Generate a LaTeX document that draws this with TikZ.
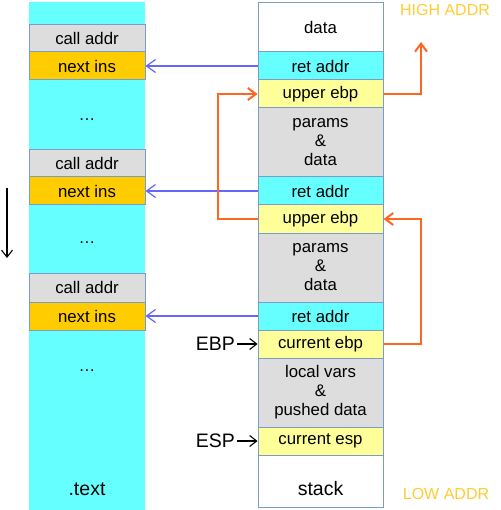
\documentclass[tikz,border=0pt]{standalone}
\usepackage{fontspec}
\setmainfont{Liberation Sans}
\usetikzlibrary{arrows.meta}
\definecolor{cyanfill}{HTML}{66FFFF}
\definecolor{grayfill}{HTML}{DDDDDD}
\definecolor{goldfill}{HTML}{FFCC00}
\definecolor{paleyellow}{HTML}{FFFF99}
\definecolor{bord}{HTML}{7B9CCB}
\definecolor{bluearrow}{HTML}{6666FF}
\definecolor{orangearrow}{HTML}{FF6622}
\definecolor{addrtext}{HTML}{FFCC33}
\begin{document}
\begin{tikzpicture}[x=1pt,y=-1pt,
  cell/.style={draw=bord, line width=1pt, inner sep=0pt, minimum width=125pt,
    align=center, font=\fontsize{16.8}{19}\selectfont},
  lcell/.style={cell, minimum width=116pt},
  barrow/.style={draw=bluearrow, line width=1.2pt, -{Straight Barb[length=9pt,width=13pt,line width=1.2pt]}},
  oarrow/.style={draw=orangearrow, line width=2pt, -{Straight Barb[length=8pt,width=12pt,line width=2pt]}},
  karrow/.style={draw=black, line width=1.1pt, -{Straight Barb[length=7pt,width=11pt,line width=1.1pt]}},
  bigtext/.style={font=\fontsize{19.5}{22}\selectfont},
  addr/.style={text=addrtext, font=\fontsize{16}{18}\selectfont}
]
\useasboundingbox (0,0) rectangle (500,510);
% text segment background
\fill[cyanfill] (29,2) rectangle (145,510);

% left column cells
\node[lcell, fill=grayfill, minimum height=27pt] (c1) at (87,38.5) {call addr};
\node[lcell, fill=goldfill, minimum height=28pt] (n1) at (87,66) {next ins};
\node[lcell, fill=grayfill, minimum height=27pt] (c2) at (87,163.5) {call addr};
\node[lcell, fill=goldfill, minimum height=28pt] (n2) at (87,191) {next ins};
\node[lcell, fill=grayfill, minimum height=29pt] (c3) at (87,287.5) {call addr};
\node[lcell, fill=goldfill, minimum height=28pt] (n3) at (87,316) {next ins};
\node[font=\fontsize{16.8}{19}\selectfont] (d1) at (87,120) {\ldots};
\node[font=\fontsize{16.8}{19}\selectfont] (d2) at (87,243) {\ldots};
\node[font=\fontsize{16.8}{19}\selectfont] (d3) at (87,371) {\ldots};
\node[bigtext] (txt) at (87,489) {.text};

% stack cells
\node[cell, fill=white, minimum height=49pt] (data) at (320.5,27.5) {data};
\node[cell, fill=cyanfill, minimum height=28pt] (r1) at (320.5,66) {ret addr};
\node[cell, fill=paleyellow, minimum height=28pt] (u1) at (320.5,94) {upper ebp};
\node[cell, fill=grayfill, minimum height=69pt] (p1) at (320.5,142.5) {params\\\&\\data};
\node[cell, fill=cyanfill, minimum height=28pt] (r2) at (320.5,191) {ret addr};
\node[cell, fill=paleyellow, minimum height=28pt] (u2) at (320.5,219) {upper ebp};
\node[cell, fill=grayfill, minimum height=69pt] (p2) at (320.5,267.5) {params\\\&\\data};
\node[cell, fill=cyanfill, minimum height=28pt] (r3) at (320.5,316) {ret addr};
\node[cell, fill=paleyellow, minimum height=28pt] (ce) at (320.5,344) {current ebp};
\node[cell, fill=grayfill, minimum height=69pt] (lv) at (320.5,392.5) {local vars\\\&\\pushed data};
\node[cell, fill=paleyellow, minimum height=28pt] (cs) at (320.5,441) {current esp};
\node[cell, fill=white, minimum height=52pt] (stk) at (320.5,481) {};
\node[bigtext] (stklabel) at (320.5,489) {stack};

% return address arrows
\draw[barrow] (r1.west) -- (n1.east);
\draw[barrow] (r2.west) -- (n2.east);
\draw[barrow] (r3.west) -- (n3.east);

% saved ebp chain
\coordinate (hi) at (421,42);
\draw[oarrow] (u1.east) -| (hi);
\draw[oarrow] (ce.east) -- (421,344) |- (u2.east);
\draw[oarrow] (u2.west) -- (218,219) |- (u1.west);

% registers
\node[bigtext, anchor=east, inner sep=0pt] (ebp) at (235,344) {EBP};
\node[bigtext, anchor=east, inner sep=0pt] (esp) at (235,441) {ESP};
\draw[karrow] (ebp.east) ++(2,0) -- (ce.west);
\draw[karrow] (esp.east) ++(2,0) -- (cs.west);

% growth direction
\coordinate (g1) at (7,188);
\coordinate (g2) at (7,258);
\draw[karrow] (g1) -- (g2);

% address labels
\node[addr] (high) at (445,10) {HIGH ADDR};
\node[addr] (low) at (446,494) {LOW ADDR};
\end{tikzpicture}
\end{document}
